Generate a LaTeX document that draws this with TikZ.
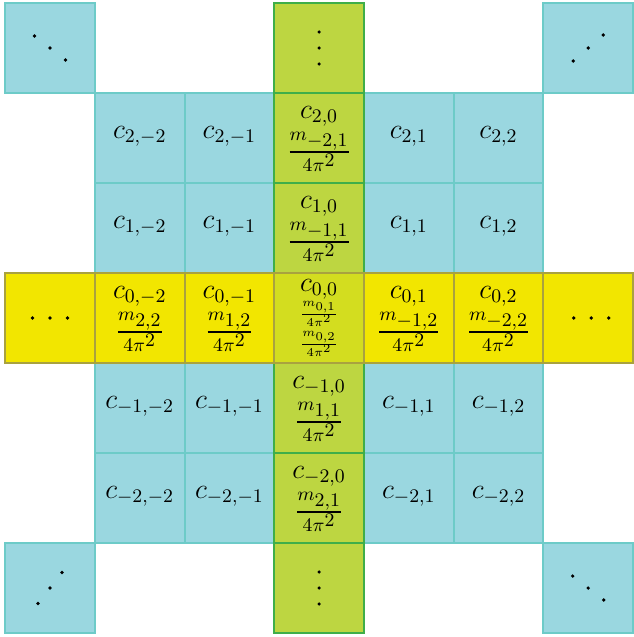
\RequirePackage{fix-cm}
\documentclass[tikz,border=0pt]{standalone}
\usepackage{amsmath}
\DeclareMathSizes{14}{14}{9.6}{9.6}
\DeclareMathSizes{8.5}{8.5}{6}{6}
\definecolor{cyanfill}{HTML}{9AD7E0}
\definecolor{cyanline}{HTML}{6DCBC8}
\definecolor{greenfill}{HTML}{BDD641}
\definecolor{greenline}{HTML}{3FAE49}
\definecolor{yellowfill}{HTML}{F2E600}
\definecolor{yellowline}{HTML}{A9A23F}
\definecolor{centerfill}{HTML}{D3DD1F}
\begin{document}
\begin{tikzpicture}[x=0.5pt,y=-0.5pt,
  cell/.style={minimum width=44.85pt,minimum height=45pt,inner sep=0pt,line width=1pt,font=\fontsize{14}{16}\selectfont},
  cyancell/.style={cell,fill=cyanfill,draw=cyanline},
  greencell/.style={cell,fill=greenfill,draw=greenline},
  yellowcell/.style={cell,fill=yellowfill,draw=yellowline},
  centercell/.style={cell,fill=centerfill,draw=yellowline},
  ctxt/.style={inner sep=0pt,font=\fontsize{14}{16}\selectfont},
  stxt/.style={inner sep=0pt,font=\fontsize{8.5}{10}\selectfont},
  dot/.style={fill=black}]
\useasboundingbox (0,0) rectangle (633,637);
% cyan cells
\node[cyancell] (tl) at (50,48) {};
\node[cyancell] (tr) at (588.2,48) {};
\node[cyancell] (bl) at (50,588) {};
\node[cyancell] (br) at (588.2,588) {};
\node[cyancell] (a1) at (139.7,138) {};
\node[cyancell] (a2) at (229.4,138) {};
\node[cyancell] (a4) at (408.8,138) {};
\node[cyancell] (a5) at (498.5,138) {};
\node[cyancell] (b1) at (139.7,228) {};
\node[cyancell] (b2) at (229.4,228) {};
\node[cyancell] (b4) at (408.8,228) {};
\node[cyancell] (b5) at (498.5,228) {};
\node[cyancell] (d1) at (139.7,408) {};
\node[cyancell] (d2) at (229.4,408) {};
\node[cyancell] (d4) at (408.8,408) {};
\node[cyancell] (d5) at (498.5,408) {};
\node[cyancell] (e1) at (139.7,498) {};
\node[cyancell] (e2) at (229.4,498) {};
\node[cyancell] (e4) at (408.8,498) {};
\node[cyancell] (e5) at (498.5,498) {};
\foreach \n/\c in {a1/{2,-2}, a2/{2,-1}, a4/{2,1}, a5/{2,2},
                   b1/{1,-2}, b2/{1,-1}, b4/{1,1}, b5/{1,2},
                   d1/{-1,-2}, d2/{-1,-1}, d4/{-1,1}, d5/{-1,2},
                   e1/{-2,-2}, e2/{-2,-1}, e4/{-2,1}, e5/{-2,2}} {
  \node[ctxt] (\n-c) at ([shift={(0,-2)}]\n.center) {$c_{\c}$};
}
% green column
\node[greencell] (top) at (319.1,48) {};
\node[greencell] (a3) at (319.1,138) {};
\node[greencell] (b3) at (319.1,228) {};
\node[greencell] (d3) at (319.1,408) {};
\node[greencell] (e3) at (319.1,498) {};
\node[greencell] (bot) at (319.1,588) {};
% yellow row
\node[yellowcell] (left) at (50,318) {};
\node[yellowcell] (c1) at (139.7,318) {};
\node[yellowcell] (c2) at (229.4,318) {};
\node[yellowcell] (c4) at (408.8,318) {};
\node[yellowcell] (c5) at (498.5,318) {};
\node[yellowcell] (right) at (588.2,318) {};
\node[centercell] (c3) at (319.1,318) {};
% two-line labels
\foreach \n/\c/\m in {a3/{2,0}/{-2,1}, b3/{1,0}/{-1,1}, d3/{-1,0}/{1,1}, e3/{-2,0}/{2,1},
                      c1/{0,-2}/{2,2}, c2/{0,-1}/{1,2}, c4/{0,1}/{-1,2}, c5/{0,2}/{-2,2}} {
  \node[ctxt] (\n-c) at ([shift={(0,-22)}]\n.center) {$c_{\c}$};
  \node[ctxt] (\n-f) at ([shift={(0,14)}]\n.center) {$\frac{m_{\m}}{4\pi^2}$};
}
% center labels
\node[ctxt] (c3-c) at ([shift={(0,-29)}]c3.center) {$c_{0,0}$};
\node[stxt] (c3-f1) at ([shift={(0,-4)}]c3.center) {$\frac{m_{0,1}}{4\pi^2}$};
\node[stxt] (c3-f2) at ([shift={(0,26)}]c3.center) {$\frac{m_{0,2}}{4\pi^2}$};
% dots
\foreach \n/\dx/\dy in {tl/15.5/12, br/15.5/12, tr/15/-13, bl/12/-15.5} {
  \fill[dot] ([shift={(-\dx,-\dy)}]\n.center) circle[radius=0.9pt];
  \fill[dot] (\n.center) circle[radius=0.9pt];
  \fill[dot] ([shift={(\dx,\dy)}]\n.center) circle[radius=0.9pt];
}
\foreach \n in {top,bot} {
  \fill[dot] ([shift={(0,-16)}]\n.center) circle[radius=0.9pt];
  \fill[dot] (\n.center) circle[radius=0.9pt];
  \fill[dot] ([shift={(0,16)}]\n.center) circle[radius=0.9pt];
}
\foreach \n/\s in {left/0,right/3} {
  \fill[dot] ([shift={(\s-17.5,0)}]\n.center) circle[radius=0.9pt];
  \fill[dot] ([shift={(\s,0)}]\n.center) circle[radius=0.9pt];
  \fill[dot] ([shift={(\s+17.5,0)}]\n.center) circle[radius=0.9pt];
}
\end{tikzpicture}
\end{document}
